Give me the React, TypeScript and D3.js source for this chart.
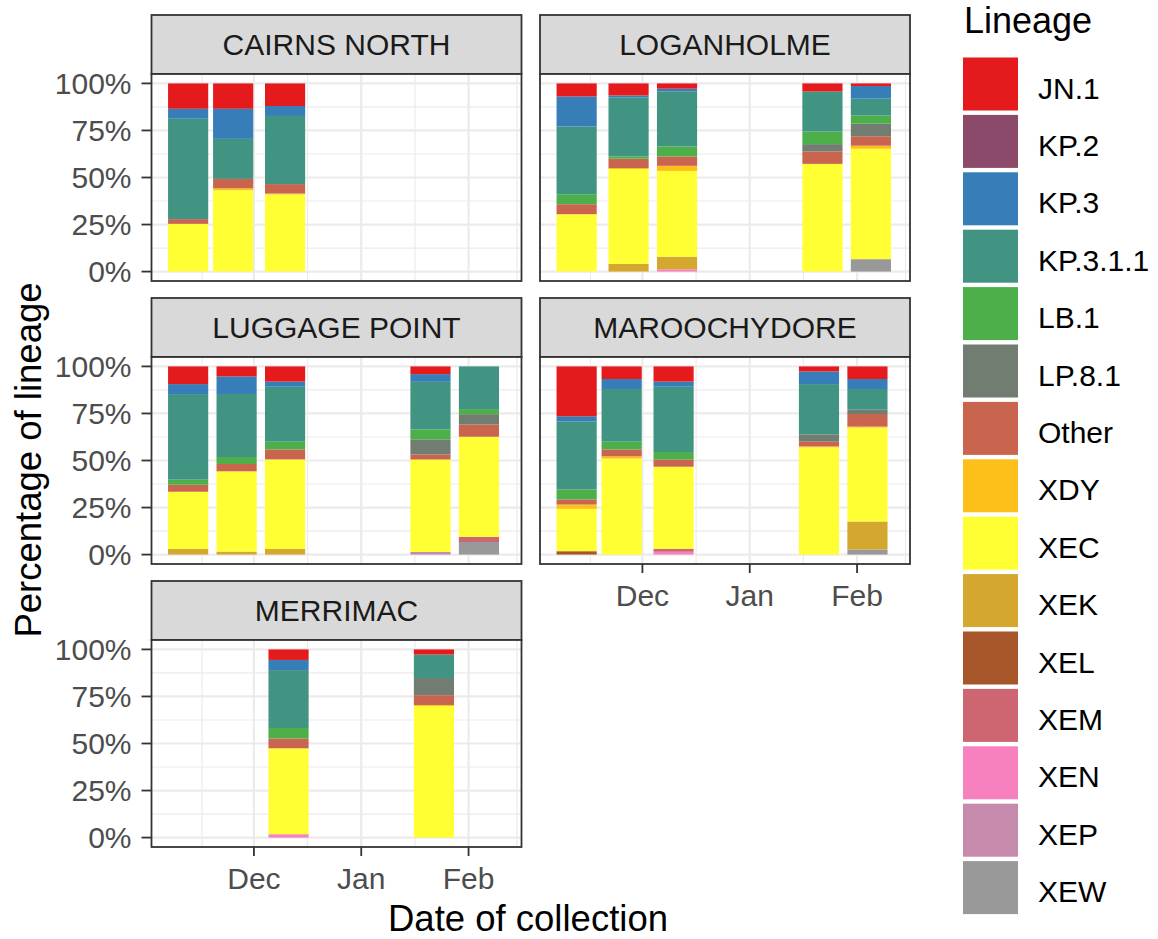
import React from "react";
import * as d3 from "d3";

const lineages = ["JN.1", "KP.2", "KP.3", "KP.3.1.1", "LB.1", "LP.8.1", "Other", "XDY", "XEC", "XEK", "XEL", "XEM", "XEN", "XEP", "XEW"];
const lineageColors = ["#E41A1C", "#8B4A6A", "#377EB8", "#419482", "#4DAF4A", "#727D71", "#C9654F", "#FDBF1A", "#FFFF33", "#D4A82E", "#A65628", "#CD6670", "#F781BF", "#C68AAC", "#999999"];

const sites = ["CAIRNS NORTH", "LOGANHOLME", "LUGGAGE POINT", "MAROOCHYDORE", "MERRIMAC"];

// values per sample, in the order of `lineages` (percent)
const cairnsNorthDates = ["2024-11-12", "2024-11-25", "2024-12-10"];
const cairnsNorthValues = [
  [13.5, 0, 5.3, 53.4, 0, 0, 2.5, 0, 25.4, 0, 0, 0, 0, 0, 0],
  [13.5, 0, 16, 21.3, 0, 0, 5, 1, 43.3, 0, 0, 0, 0, 0, 0],
  [12, 0, 5.3, 36.2, 0, 0, 5, 0.5, 41, 0, 0, 0, 0, 0, 0],
];

const loganholmeDates = ["2024-11-12", "2024-11-27", "2024-12-11", "2025-01-22", "2025-02-05"];
const loganholmeValues = [
  [6.9, 0, 16, 36, 5.3, 0, 5.3, 0, 30.5, 0, 0, 0, 0, 0, 0],
  [6.4, 0, 1, 31.4, 1.2, 0, 5, 0.5, 50.4, 4.1, 0, 0, 0, 0, 0],
  [2.8, 0, 1.4, 29.3, 5.3, 0, 5, 2.7, 45.6, 6.7, 0, 0, 1.2, 0, 0],
  [4.3, 0, 0, 21.3, 6.7, 3.9, 6.6, 0, 57.3, 0, 0, 0, 0, 0, 0],
  [1.4, 0, 6.7, 9, 4.3, 6.7, 5, 1.6, 58.7, 0, 0, 0, 0, 0, 6.6],
];

const luggagePointDates = ["2024-11-12", "2024-11-26", "2024-12-10", "2025-01-21", "2025-02-04"];
const luggagePointValues = [
  [9.4, 0, 5.3, 45.5, 2.7, 0, 3.7, 0, 30.4, 3, 0, 0, 0, 0, 0],
  [5.3, 0, 9.4, 33.5, 3.7, 0, 3.9, 0, 42.7, 1.6, 0, 0, 0, 0, 0],
  [8.1, 0, 2.7, 29.2, 4.1, 0, 5.3, 0, 47.6, 3, 0, 0, 0, 0, 0],
  [4.1, 0, 4.1, 25.3, 5.3, 8, 2.7, 0, 49.2, 0, 0, 0, 0, 1.4, 0],
  [0, 0, 0, 22.7, 2.7, 5.5, 6.5, 0, 53.3, 0, 0, 2.7, 0, 0, 6.7],
];

const maroochydoreDates = ["2024-11-12", "2024-11-25", "2024-12-10", "2025-01-21", "2025-02-04"];
const maroochydoreValues = [
  [26.5, 0, 2.8, 36.1, 5.3, 0, 2.7, 2.3, 22.5, 0, 1.8, 0, 0, 0, 0],
  [6.7, 0, 5.3, 28, 4.1, 0, 3.7, 1.2, 51, 0, 0, 0, 0, 0, 0],
  [8.1, 0, 2.7, 34.7, 3.9, 0, 3.9, 0, 43.7, 0, 0, 1.5, 1.5, 0, 0],
  [2.7, 0, 6.7, 26.7, 0, 3.9, 2.5, 0.5, 57, 0, 0, 0, 0, 0, 0],
  [6.7, 0, 5.3, 11, 0, 2.3, 6.7, 0.5, 49.9, 14.9, 0, 0, 0, 0, 2.7],
];

const merrimacDates = ["2024-12-11", "2025-01-22"];
const merrimacValues = [
  [5.6, 0, 5.4, 30.8, 5.6, 0, 5.2, 0, 45.7, 0, 0, 0, 1.8, 0, 0],
  [2.7, 0, 0, 12.5, 0, 9.1, 5.2, 0.5, 69.9, 0, 0, 0, 0, 0, 0],
];

const siteDates = [cairnsNorthDates, loganholmeDates, luggagePointDates, maroochydoreDates, merrimacDates];
const siteValues = [cairnsNorthValues, loganholmeValues, luggagePointValues, maroochydoreValues, merrimacValues];

const xTickDates = ["2024-12-01", "2025-01-01", "2025-02-01"];
const xTickLabels = ["Dec", "Jan", "Feb"];
const xMinorDates = ["2024-11-16T00:00:00Z", "2024-12-16T12:00:00Z", "2025-01-16T12:00:00Z", "2025-02-15T00:00:00Z"];
const yTicks = [0, 0.25, 0.5, 0.75, 1];
const yTickLabels = ["0%", "25%", "50%", "75%", "100%"];
const yMinor = [0.125, 0.375, 0.625, 0.875];

const FONT = "'Liberation Sans', Arial, Helvetica, sans-serif";
const DAY = 86400000;
const BAR_DAYS = 11.6;

const colX = [151.5, 540];
const panelW = 370;
const stripTops = [15, 298, 581];
const stripH = 59;
const plotH = 207;

export default function App() {
  const x = d3
    .scaleUtc()
    .domain([new Date(Date.UTC(2024, 10, 1, 10)), new Date(Date.UTC(2025, 1, 16, 7))])
    .range([0, panelW]);
  const y = d3.scaleLinear().domain([-0.05, 1.05]).range([plotH, 0]);

  const keysBottomUp = lineages.slice().reverse();
  const stacker = d3
    .stack<any>()
    .keys(keysBottomUp)
    .offset(d3.stackOffsetExpand);

  const panels = sites.map((site, i) => {
    const col = i % 2;
    const row = Math.floor(i / 2);
    const x0 = colX[col];
    const stripTop = stripTops[row];
    const plotTop = stripTop + stripH;
    const rows = siteDates[i].map((d, j) => {
      const o: any = { date: new Date(d) };
      lineages.forEach((l, k) => (o[l] = siteValues[i][j][k]));
      return o;
    });
    const series = stacker(rows);
    const showXAxis = i === 3 || i === 4;
    const showYAxis = col === 0;
    return (
      <g key={site}>
        <rect x={x0} y={stripTop} width={panelW} height={stripH} fill="#D9D9D9" stroke="#333333" strokeWidth={1.8} />
        <text x={x0 + panelW / 2} y={stripTop + stripH / 2 + 10.5} textAnchor="middle" fontSize={30} fill="#1A1A1A" fontFamily={FONT}>
          {site}
        </text>
        <g transform={`translate(${x0},${plotTop})`}>
          <rect x={0} y={0} width={panelW} height={plotH} fill="#FFFFFF" />
          {yMinor.map((v) => (
            <line key={"ym" + v} x1={0} x2={panelW} y1={y(v)} y2={y(v)} stroke="#EBEBEB" strokeWidth={1.2} />
          ))}
          {xMinorDates.map((d) => (
            <line key={"xm" + d} x1={x(new Date(d))} x2={x(new Date(d))} y1={0} y2={plotH} stroke="#EBEBEB" strokeWidth={1.2} />
          ))}
          {yTicks.map((v) => (
            <line key={"y" + v} x1={0} x2={panelW} y1={y(v)} y2={y(v)} stroke="#EBEBEB" strokeWidth={2.2} />
          ))}
          {xTickDates.map((d) => (
            <line key={"x" + d} x1={x(new Date(d))} x2={x(new Date(d))} y1={0} y2={plotH} stroke="#EBEBEB" strokeWidth={2.2} />
          ))}
          {series.map((s) => (
            <g key={s.key} fill={lineageColors[lineages.indexOf(s.key as string)]}>
              {s.map((seg, j) => {
                const dt = rows[j].date.getTime();
                const xa = x(new Date(dt - (BAR_DAYS / 2) * DAY));
                const xb = x(new Date(dt + (BAR_DAYS / 2) * DAY));
                const h = y(seg[0]) - y(seg[1]);
                if (h <= 0) return null;
                return <rect key={j} x={xa} y={y(seg[1])} width={xb - xa} height={h} />;
              })}
            </g>
          ))}
          <rect x={0} y={0} width={panelW} height={plotH} fill="none" stroke="#333333" strokeWidth={1.8} />
          {showYAxis &&
            yTicks.map((v, k) => (
              <g key={"yt" + v}>
                <line x1={-10} x2={0} y1={y(v)} y2={y(v)} stroke="#333333" strokeWidth={1.8} />
                <text x={-20} y={y(v)} dy="0.36em" textAnchor="end" fontSize={30} fill="#4D4D4D" fontFamily={FONT}>
                  {yTickLabels[k]}
                </text>
              </g>
            ))}
          {showXAxis &&
            xTickDates.map((d, k) => (
              <g key={"xt" + d}>
                <line x1={x(new Date(d))} x2={x(new Date(d))} y1={plotH} y2={plotH + 9} stroke="#333333" strokeWidth={1.8} />
                <text x={x(new Date(d))} y={plotH + 42} textAnchor="middle" fontSize={30} fill="#4D4D4D" fontFamily={FONT}>
                  {xTickLabels[k]}
                </text>
              </g>
            ))}
        </g>
      </g>
    );
  });

  const keyX = 963;
  const keyTop0 = 57.5;
  const keyPitch = 57.4;

  return (
    <svg width={1158} height={939} style={{ position: "absolute", left: 0, top: 0 }} fontFamily={FONT}>
      <rect x={0} y={0} width={1158} height={939} fill="#FFFFFF" />
      {panels}
      <text x={528} y={931} textAnchor="middle" fontSize={36.5} fill="#000000">
        Date of collection
      </text>
      <text transform="translate(41,460) rotate(-90)" textAnchor="middle" fontSize={36.5} fill="#000000">
        Percentage of lineage
      </text>
      <text x={964} y={33} fontSize={36} fill="#000000">
        Lineage
      </text>
      {lineages.map((l, k) => (
        <g key={l}>
          <rect x={keyX} y={keyTop0 + k * keyPitch} width={55} height={53} fill={lineageColors[k]} />
          <text x={1038} y={keyTop0 + k * keyPitch + 41} fontSize={30} fill="#000000">
            {l}
          </text>
        </g>
      ))}
    </svg>
  );
}
